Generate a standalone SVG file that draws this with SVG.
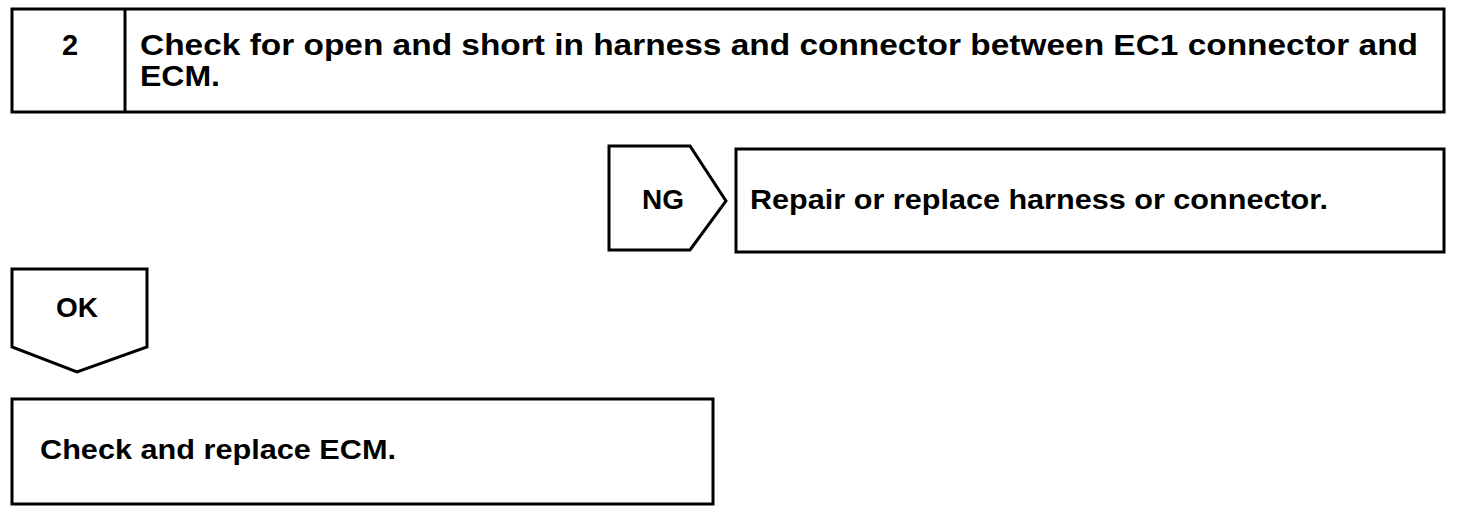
<svg xmlns="http://www.w3.org/2000/svg" width="1472" height="512" viewBox="0 0 1472 512">
<style>
.b{fill:#fff;stroke:#000;stroke-width:3}
.t{font-family:"Liberation Sans",Arial,sans-serif;font-weight:bold;font-size:28px;fill:#000}
.h{font-size:29px}
</style>
<rect width="1472" height="512" fill="#fff"/>
<g id="step">
<rect class="b" x="12" y="9" width="1432" height="103"/>
<line x1="125" y1="9" x2="125" y2="112" stroke="#000" stroke-width="3"/>
<text class="t h" x="70" y="55" text-anchor="middle">2</text>
<text class="t h" x="140" y="55" textLength="1278" lengthAdjust="spacingAndGlyphs">Check for open and short in harness and connector between EC1 connector and</text>
<text class="t h" x="140" y="86" textLength="80" lengthAdjust="spacingAndGlyphs">ECM.</text>
</g>
<g id="ng">
<path class="b" d="M609,146 H690 L726,201 L690,250 H609 Z"/>
<text class="t" x="663" y="209" text-anchor="middle">NG</text>
</g>
<g id="repair">
<rect class="b" x="736" y="149" width="708" height="103"/>
<text class="t" x="750" y="209" textLength="578" lengthAdjust="spacingAndGlyphs">Repair or replace harness or connector.</text>
</g>
<g id="ok">
<path class="b" d="M12,269 H147 V347 L77,372 L12,347 Z"/>
<text class="t" x="77" y="317" text-anchor="middle">OK</text>
</g>
<g id="replace">
<rect class="b" x="12" y="399" width="701" height="105"/>
<text class="t" x="40" y="459" textLength="356" lengthAdjust="spacingAndGlyphs">Check and replace ECM.</text>
</g>
<g id="connectors"></g>
</svg>
